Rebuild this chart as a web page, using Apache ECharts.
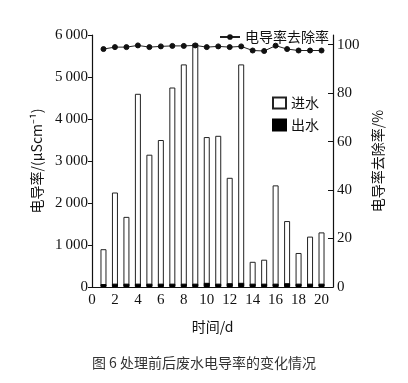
<!DOCTYPE html>
<html><head><meta charset="utf-8">
<script src="https://cdn.jsdelivr.net/npm/echarts@6/dist/echarts.min.js"></script>
<style>html,body{margin:0;padding:0;background:#fff}#c{width:408px;height:383px}</style>
</head><body><div id="c"></div>
<script>
const days = [1,2,3,4,5,6,7,8,9,10,11,12,13,14,15,16,17,18,19,20];
const inlet = [900,2250,1670,4600,3150,3500,4750,5300,5800,3570,3600,2600,5300,600,650,2420,1570,810,1200,1300];
const outlet = [70,80,80,80,80,80,80,80,80,100,80,90,100,80,80,80,90,80,80,80];
const removal = [98.2,99,99,99.7,99,99.3,99.5,99.5,99.7,99,99.3,99,99.3,97.6,97.4,99.6,98.2,97.6,97.6,97.6];
const xTicks = [0,2,4,6,8,10,12,14,16,18,20];
const rightTicks = [0,20,40,60,80,100];

const serif = 'Liberation Serif';
const cjk = 'Noto Sans CJK SC';
const fmt = v => v >= 1000 ? Math.floor(v/1000) + '\u2009' + String(v%1000).padStart(3,'0') : String(v);
const rich = {n:{fontFamily:serif, fontSize:15, color:'#111'}};
const numLabel = (f, extra) => Object.assign({formatter: v => '{n|' + f(v) + '}', rich: rich, fontFamily:serif, fontSize:15, color:'#111'}, extra);

const chart = echarts.init(document.getElementById('c'), null, {renderer:'canvas'});
chart.setOption({
  animation:false,
  backgroundColor:'#fff',
  grid:{left:92, right:75, top:35, bottom:96},
  title:{text:'图 6 处理前后废水电导率的变化情况', left:'center', top:351,
    textStyle:{fontFamily:cjk, fontSize:14, fontWeight:'normal', color:'#333'}},
  legend:[
    {data:['电导率去除率'], left:214, top:25, itemWidth:20, itemHeight:7, itemGap:5,
     textStyle:{fontFamily:cjk, fontSize:14, color:'#111'}},
    {data:[{name:'进水', icon:'rect'},{name:'出水', icon:'rect'}], orient:'vertical', left:267, top:91, itemWidth:13, itemHeight:11, itemGap:8,
     textStyle:{fontFamily:cjk, fontSize:14, color:'#111'}}
  ],
  xAxis:{type:'value', min:0, max:21, interval:1,
    name:'时间/d', nameLocation:'middle', nameGap:33,
    nameTextStyle:{fontFamily:cjk, fontSize:14, color:'#111'},
    axisLine:{lineStyle:{color:'#111', width:1.2}},
    axisTick:{show:false},
    splitLine:{show:false},
    axisLabel:numLabel(String, {customValues:xTicks, margin:6})
  },
  yAxis:[
    {type:'value', min:0, max:6000, interval:1000, position:'left',
     name:'电导率/(μScm⁻¹)', nameLocation:'middle', nameGap:47,
     nameTextStyle:{fontFamily:cjk, fontSize:14, color:'#111'},
     axisLine:{show:true, lineStyle:{color:'#111', width:1.2}},
     axisTick:{show:true, inside:false, length:4, lineStyle:{color:'#111'}},
     splitLine:{show:false},
     axisLabel:numLabel(fmt, {margin:4})
    },
    {type:'value', min:0, max:104, interval:4, position:'right',
     name:'电导率去除率/%', nameLocation:'middle', nameGap:34,
     nameTextStyle:{fontFamily:cjk, fontSize:14, color:'#111'},
     axisLine:{show:true, lineStyle:{color:'#111', width:1.2}},
     axisTick:{show:true, inside:true, length:5, customValues:rightTicks, lineStyle:{color:'#111'}},
     splitLine:{show:false},
     axisLabel:numLabel(String, {customValues:rightTicks, margin:4})
    }
  ],
  series:[
    {name:'进水', type:'bar', yAxisIndex:0, barWidth:6, barGap:'-100%',
     itemStyle:{color:'#fff', borderColor:'#222', borderWidth:1},
     data: days.map((d,i)=>[d, inlet[i]])},
    {name:'出水', type:'bar', yAxisIndex:0, barWidth:6, barGap:'-100%',
     itemStyle:{color:'#000', borderColor:'#000', borderWidth:1},
     data: days.map((d,i)=>[d, outlet[i]])},
    {name:'电导率去除率', type:'line', yAxisIndex:1, symbol:'circle', symbolSize:5,
     lineStyle:{color:'#222', width:1}, itemStyle:{color:'#111', borderColor:'#111'},
     data: days.map((d,i)=>[d, removal[i]])}
  ]
});
</script></body></html>
